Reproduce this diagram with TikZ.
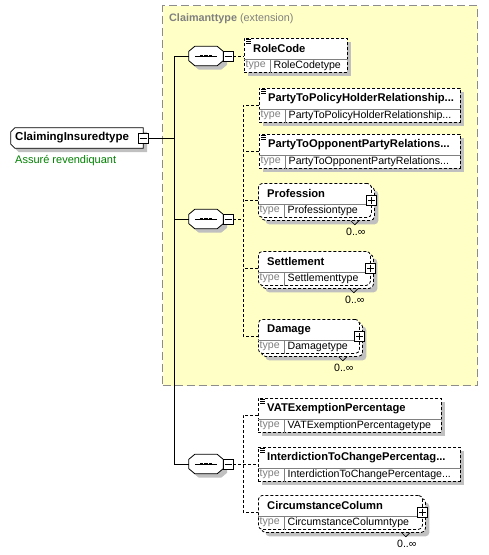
\documentclass[tikz,border=0pt]{standalone}
\usepackage{fontspec}
\setmainfont{Liberation Sans}
\usetikzlibrary{shadows,calc}
\definecolor{yel}{HTML}{FFFFC6}
\definecolor{shg}{HTML}{C0C0C0}
\definecolor{bordg}{HTML}{8C8C8C}
\definecolor{grn}{HTML}{008000}
\definecolor{tgray}{HTML}{808080}
\tikzset{
  shad/.style={drop shadow={shadow xshift=4pt, shadow yshift=-4pt, fill=shg, opacity=1}},
  elbox/.style={draw=black, dash pattern=on 3pt off 2pt, line width=0.8pt, fill=white, inner sep=0pt, minimum height=34pt, anchor=north west},
  nametxt/.style={font=\fontsize{11.2}{13}\selectfont\bfseries, inner sep=0pt, anchor=west},
  typelbl/.style={font=\fontsize{10.6}{12}\selectfont, text=tgray, inner sep=0pt, anchor=west},
  typetxt/.style={font=\fontsize{10.6}{12}\selectfont, inner sep=0pt, anchor=west},
  sepline/.style={draw=tgray, line width=0.8pt},
  pmbox/.style={draw=black, fill=white, line width=0.8pt, minimum size=10pt, inner sep=0pt},
  frameshape/.style={draw=black, fill=white, line width=0.8pt, shad},
  conn/.style={line width=0.9pt},
  dconn/.style={line width=0.8pt, dash pattern=on 3pt off 2pt},
  mult/.style={font=\fontsize{10.6}{12}\selectfont, inner sep=0pt},
  pmline/.style={line width=0.8pt},
}
\newcommand\elparts[3]{%
  \draw[sepline] ([yshift=-21pt]#1.north west) -- ([yshift=-21pt]#1.north east);
  \draw[sepline] ([xshift=26pt,yshift=-21pt]#1.north west) -- ([xshift=26pt]#1.south west);
  \node[nametxt] (#1-n) at ([xshift=9pt,yshift=-10.5pt]#1.north west) {#2};
  \node[typelbl] (#1-t) at ([xshift=1.5pt,yshift=-27.5pt]#1.north west) {type};
  \node[typetxt] (#1-v) at ([xshift=29.5pt,yshift=-27.5pt]#1.north west) {#3};
}
\newcommand\simpleel[6]{%
  \node[elbox, shad, minimum width={#4-#2}] (#1) at (#2,#3) {};
  \elparts{#1}{#5}{#6}
  \foreach \dy in {1.2,3.2,5.2} {
    \draw[line width=0.7pt] ([xshift=2pt,yshift=-\dy pt]#1.north west) -- ++(5pt,0pt);
  }
}
\newcommand\multiel[6]{%
  \node[elbox, shad, rounded corners=4pt, minimum width={#4-#2}] (#1-b) at (#2+3,#3+3) {};
  \node[elbox, rounded corners=4pt, minimum width={#4-#2}] (#1) at (#2,#3) {};
  \elparts{#1}{#5}{#6}
  \node[pmbox] (#1-p) at ([yshift=-17pt]#1.north east) {};
  \draw[pmline] ([xshift=-3.5pt]#1-p.center) -- ([xshift=3.5pt]#1-p.center);
  \draw[pmline] ([yshift=-3.5pt]#1-p.center) -- ([yshift=3.5pt]#1-p.center);
  \draw[line width=0.6pt] ([xshift=-21pt,yshift=-3pt]#1.south east) -- ++(4pt,-4pt) -- ++(4pt,4pt);
  \node[mult] (#1-m) at ([xshift=-16pt,yshift=-14pt]#1.south east) {0..∞};
}
\newcommand\seqnode[2]{%
  \node[minimum width=34pt, minimum height=19pt, inner sep=0pt] (#1) at (206,#2) {};
  \draw[frameshape] ([xshift=6pt]#1.north west) -- ([xshift=-6pt]#1.north east)
     -- ([yshift=-5pt]#1.north east) -- ([yshift=5pt]#1.south east)
     -- ([xshift=-6pt]#1.south east) -- ([xshift=6pt]#1.south west)
     -- ([yshift=5pt]#1.south west) -- ([yshift=-5pt]#1.north west) -- cycle;
  \draw[line width=0.8pt] ([xshift=-11pt]#1.center) -- ([xshift=11pt]#1.center);
  \foreach \dx in {-4.5,0,4.5} {
    \fill ([xshift=\dx pt-1.6pt,yshift=-1.4pt]#1.center) rectangle ++(3.2pt,2.8pt);
  }
  \node[pmbox] (#1-m) at (228,#2) {};
  \draw[pmline] ([xshift=-3.5pt]#1-m.center) -- ([xshift=3.5pt]#1-m.center);
}
\begin{document}
\begin{tikzpicture}[x=1pt,y=-1pt]
\useasboundingbox (0,0) rectangle (488,555);

% extension box
\node[draw=bordg, dash pattern=on 8pt off 4pt, line width=1pt, fill=yel, minimum width=315pt, minimum height=380pt, inner sep=0pt, anchor=north west] (ext) at (162,5) {};
\node[anchor=west, inner sep=0pt, text=tgray, font=\fontsize{10.8}{13}\selectfont] (extT) at (169,19) {\textbf{Claimanttype} (extension)};

% root
\node[minimum width=132pt, minimum height=20pt, inner sep=0pt] (root) at (77,138) {};
\draw[frameshape] ([xshift=4pt]root.north west) -- (root.north east) -- (root.south east)
   -- ([xshift=4pt]root.south west) -- ([yshift=4pt]root.south west)
   -- ([yshift=-4pt]root.north west) -- cycle;
\node[nametxt, font=\fontsize{11.5}{13}\selectfont\bfseries] (root-n) at (15,138) {ClaimingInsuredtype};
\node[pmbox] (root-m) at (143,138) {};
\draw[pmline] ([xshift=-3.5pt]root-m.center) -- ([xshift=3.5pt]root-m.center);
\node[anchor=west, inner sep=0pt, text=grn, font=\fontsize{11}{13}\selectfont] (doc) at (15,161) {Assuré revendiquant};

% sequences
\seqnode{s1}{56}
\seqnode{s2}{219}
\seqnode{s3}{464}

\coordinate (j0) at (174,138);
\draw[conn] (root-m.east) -- (j0);
\draw[conn] (s1.west) -- (s1.west -| j0) -- (s3.west -| j0) -- (s3.west);
\draw[conn] (s2.west) -- (s2.west -| j0);

% elements
\simpleel{rc}{244}{38}{347}{RoleCode}{RoleCodetype}
\simpleel{ptp}{259}{88}{460}{PartyToPolicyHolderRelationship...}{PartyToPolicyHolderRelationship...}
\simpleel{pto}{259}{134}{460}{PartyToOpponentPartyRelations...}{PartyToOpponentPartyRelations...}
\multiel{prof}{258}{183}{371}{Profession}{Professiontype}
\multiel{sett}{258}{251}{370}{Settlement}{Settlementtype}
\multiel{dmg}{258}{319}{359}{Damage}{Damagetype}
\simpleel{vat}{258}{398}{441}{VATExemptionPercentage}{VATExemptionPercentagetype}
\simpleel{itc}{258}{447}{460}{InterdictionToChangePercentag...}{InterdictionToChangePercentage...}
\multiel{circ}{258}{495}{422}{CircumstanceColumn}{CircumstanceColumntype}

% dashed connectors
\draw[dconn] (s1-m.east) -- (s1-m.east -| rc.west);
\coordinate (v2) at (243,219);
\draw[dconn] (s2-m.east) -- (v2);
\draw[dconn] (ptp.west) -- (ptp.west -| v2) -- (dmg.west -| v2) -- (dmg.west);
\draw[dconn] (pto.west) -- (pto.west -| v2);
\draw[dconn] (prof.west) -- (prof.west -| v2);
\draw[dconn] (sett.west) -- (sett.west -| v2);
\coordinate (v3) at (243,464);
\draw[dconn] (s3-m.east) -- (itc.west |- s3-m.east);
\draw[dconn] (vat.west) -- (vat.west -| v3) -- (circ.west -| v3) -- (circ.west);
\end{tikzpicture}
\end{document}
